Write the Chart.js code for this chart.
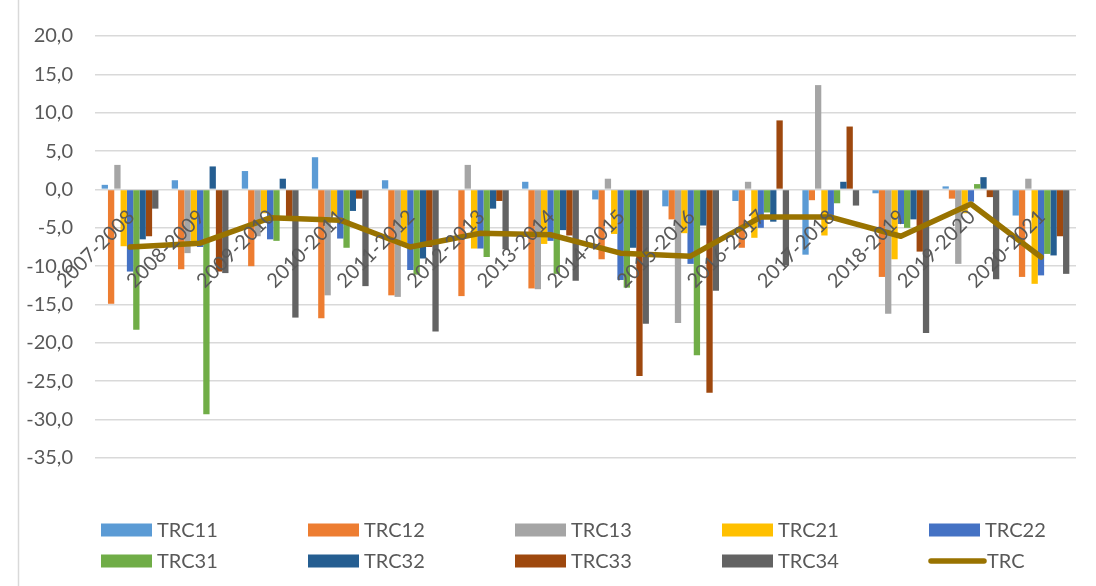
<!DOCTYPE html>
<html>
<head>
<meta charset="utf-8">
<script src="https://cdn.jsdelivr.net/npm/chart.js@4/dist/chart.umd.min.js"></script>
<style>
html,body{margin:0;padding:0;background:#fff;}
#wrap{width:1096px;height:586px;position:relative;}
</style>
</head>
<body>
<div id="wrap"><canvas id="c" width="1096" height="586"></canvas></div>
<script>
const categories = ['2007-2008','2008-2009','2009-2010','2010-2011','2011-2012','2012-2013','2013-2014','2014-2015','2015-2016','2016-2017','2017-2018','2018-2019','2019-2020','2020-2021'];
const TRC11 = [0.6, 1.2, 2.4, 4.2, 1.2, -0.1, 1.0, -1.3, -2.2, -1.5, -8.5, -0.5, 0.4, -3.4];
const TRC12 = [-14.9, -10.4, -10.0, -16.8, -13.8, -13.9, -12.9, -9.1, -3.9, -7.6, -1.4, -11.4, -1.2, -11.4];
const TRC13 = [3.2, -8.3, -6.1, -13.8, -14.0, 3.2, -13.0, 1.4, -17.4, 1.0, 13.6, -16.2, -9.7, 1.4];
const TRC21 = [-7.4, -6.9, -3.1, -3.4, -7.3, -7.7, -7.1, -5.8, -5.7, -6.3, -6.0, -9.1, -3.1, -12.3];
const TRC22 = [-10.7, -7.5, -6.5, -6.4, -10.5, -7.7, -6.7, -11.8, -9.7, -5.0, -3.6, -4.5, -1.6, -11.2];
const TRC31 = [-18.3, -29.3, -6.7, -7.6, -11.1, -8.8, -11.0, -12.8, -21.6, -3.0, -1.8, -5.0, 0.7, -8.4];
const TRC32 = [-6.5, 3.0, 1.4, -2.8, -9.0, -2.5, -5.3, -7.6, -4.7, -4.2, 1.0, -3.9, 1.6, -8.6];
const TRC33 = [-6.1, -10.7, -3.8, -1.2, -7.5, -1.5, -6.0, -24.3, -26.5, 9.0, 8.2, -8.1, -1.0, -6.1];
const TRC34 = [-2.5, -10.9, -16.7, -12.6, -18.5, -7.8, -11.9, -17.5, -13.2, -9.9, -2.1, -18.7, -11.7, -11.0];
const TRC = [-7.5, -7.0, -3.7, -4.0, -7.5, -5.7, -5.9, -8.3, -8.7, -3.6, -3.6, -6.1, -1.9, -8.8];
const yTicks = [20, 15, 10, 5, 0, -5, -10, -15, -20, -25, -30, -35];

const barSeries = [
  ['TRC11', TRC11, '#5B9BD5'],
  ['TRC12', TRC12, '#ED7D31'],
  ['TRC13', TRC13, '#A5A5A5'],
  ['TRC21', TRC21, '#FFC000'],
  ['TRC22', TRC22, '#4472C4'],
  ['TRC31', TRC31, '#70AD47'],
  ['TRC32', TRC32, '#255E91'],
  ['TRC33', TRC33, '#9E480E'],
  ['TRC34', TRC34, '#636363']
];
const lineColor = '#997300';
const textColor = '#595959';
const FONT = 'Lato, "Open Sans", sans-serif';

const datasets = barSeries.map(([label, data, color]) => ({
  type: 'bar', label, data, backgroundColor: color, borderWidth: 0,
  categoryPercentage: 0.81, barPercentage: 1.0, order: 1
}));
datasets.push({
  type: 'line', label: 'TRC', data: TRC, borderColor: lineColor, backgroundColor: lineColor,
  borderWidth: 5.5, pointRadius: 0, tension: 0, order: 0, borderCapStyle: 'round', borderJoinStyle: 'round'
});

const framePlugin = {
  id: 'frame',
  beforeDraw(chart) {
    const ctx = chart.ctx;
    ctx.save();
    ctx.fillStyle = '#fff';
    ctx.fillRect(0, 0, chart.width, chart.height);
    ctx.strokeStyle = '#d9d9d9';
    ctx.lineWidth = 1.5;
    ctx.beginPath();
    ctx.moveTo(18.5, 0);
    ctx.lineTo(18.5, chart.height);
    ctx.stroke();
    ctx.restore();
  }
};

const catLabelPlugin = {
  id: 'catLabels',
  afterDatasetsDraw(chart) {
    const ctx = chart.ctx;
    const xs = chart.scales.x, ys = chart.scales.y;
    const y0 = ys.getPixelForValue(0);
    ctx.save();
    ctx.font = '20px ' + FONT;
    ctx.fillStyle = textColor;
    ctx.textAlign = 'right';
    ctx.textBaseline = 'middle';
    categories.forEach((c, i) => {
      const x = xs.getPixelForValue(i);
      ctx.save();
      ctx.translate(x + 1, y0 + 24);
      ctx.rotate(-Math.PI / 4);
      ctx.fillText(c, 0, 0);
      ctx.restore();
    });
    ctx.restore();
  }
};

const legendPlugin = {
  id: 'gridLegend',
  afterDraw(chart) {
    const ctx = chart.ctx;
    ctx.save();
    ctx.font = '20px ' + FONT;
    ctx.textBaseline = 'middle';
    ctx.textAlign = 'left';
    chart.data.datasets.forEach((ds, i) => {
      const col = i % 5, row = Math.floor(i / 5);
      const x0 = 101 + col * 207;
      const yc = 530 + row * 31;
      if (ds.type === 'line') {
        ctx.strokeStyle = ds.borderColor;
        ctx.lineWidth = 5.5;
        ctx.lineCap = 'round';
        ctx.beginPath();
        ctx.moveTo(x0 + 2, yc);
        ctx.lineTo(x0 + 55, yc);
        ctx.stroke();
      } else {
        ctx.fillStyle = ds.backgroundColor;
        ctx.fillRect(x0, yc - 6.5, 51, 13);
      }
      ctx.fillStyle = textColor;
      ctx.fillText(ds.label, x0 + (ds.type === 'line' ? 58 : 56), yc + 1);
    });
    ctx.restore();
  }
};

new Chart(document.getElementById('c'), {
  data: { labels: categories, datasets },
  options: {
    responsive: false,
    animation: false,
    devicePixelRatio: 1,
    layout: { padding: { left: 18, right: 20, top: 36, bottom: 128 } },
    plugins: {
      legend: { display: false },
      tooltip: { enabled: false },
      title: { display: false }
    },
    scales: {
      x: {
        type: 'category',
        display: false,
        offset: true,
        grid: { display: false }
      },
      y: {
        min: -35, max: 20,
        afterFit(scale) { scale.width = 77; },
        afterBuildTicks(scale) { scale.ticks = yTicks.map(v => ({ value: v })); },
        border: { display: false },
        grid: { color: '#d9d9d9', lineWidth: 1.6, drawTicks: false },
        ticks: {
          padding: 22,
          color: textColor,
          font: { family: FONT, size: 20 },
          callback: v => v.toFixed(1).replace('.', ',')
        }
      }
    }
  },
  plugins: [framePlugin, catLabelPlugin, legendPlugin]
});
</script>
</body>
</html>
